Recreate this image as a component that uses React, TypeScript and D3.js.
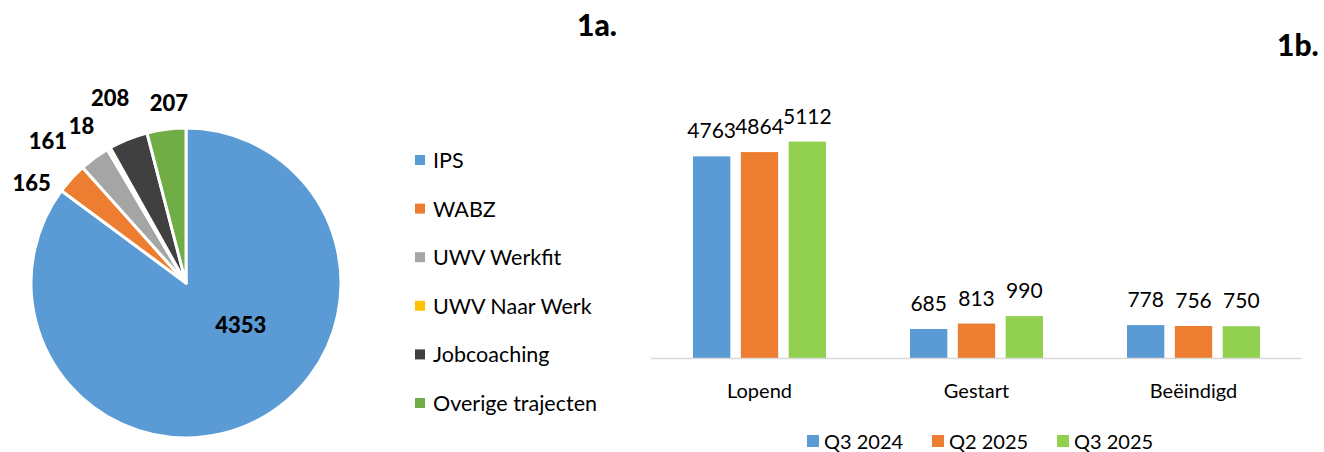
import React from 'react';
import * as d3 from 'd3';

// pie data (1a.)
const pieLabels = ['IPS', 'WABZ', 'UWV Werkfit', 'UWV Naar Werk', 'Jobcoaching', 'Overige trajecten'];
const pieValues = [4353, 165, 161, 18, 208, 207];
const pieColors = ['#5B9BD5', '#ED7D31', '#A5A5A5', '#FFC000', '#404040', '#70AD47'];

// bar data (1b.)
const categories = ['Lopend', 'Gestart', 'Beëindigd'];
const seriesNames = ['Q3 2024', 'Q2 2025', 'Q3 2025'];
const q3_2024 = [4763, 685, 778];
const q2_2025 = [4864, 813, 756];
const q3_2025 = [5112, 990, 750];
const barColors = ['#5B9BD5', '#ED7D31', '#92D050'];

// excel moves the labels around a bit
const labelNudge: [number, number][] = [
  [12, -43],
  [-14, 28],
  [-26, 11],
  [-10, 7],
  [-5, -9],
  [7, 8],
];

const FONT = 'Lato, "Open Sans", sans-serif';

export default function App() {
  const W = 1324;
  const H = 452;

  // ---- pie ----
  const cx = 186, cy = 283, r = 155;
  const pie = d3.pie<number>().sort(null).value((d) => d);
  const arcs = pie(pieValues);
  const arc = d3.arc<d3.PieArcDatum<number>>().innerRadius(0).outerRadius(r);
  const labelArc = d3.arc<d3.PieArcDatum<number>>().innerRadius(190).outerRadius(190);
  const bigArc = d3.arc<d3.PieArcDatum<number>>().innerRadius(95).outerRadius(95);

  const legendY = d3.scalePoint<string>().domain(pieLabels).range([160, 403]);

  // ---- bars ----
  const x0 = d3.scaleBand<string>().domain(categories).range([651, 1302]);
  const x1 = d3.scaleBand<string>().domain(seriesNames).range([42, 175]).paddingInner(0.22);
  const y = d3.scaleLinear().domain([0, 6000]).range([358, 104]);
  const series = [q3_2024, q2_2025, q3_2025];

  const barLegendX = [807, 932, 1057];

  return (
    <div style={{ position: 'absolute', left: 0, top: 0 }}>
      <svg width={W} height={H} style={{ display: 'block', background: '#fff' }} fontFamily={FONT}>
        <text x={577} y={36} fontSize={30} fontWeight={900} fill="#000">1a.</text>
        <text x={1277} y={56} fontSize={30} fontWeight={900} fill="#000">1b.</text>

        <g transform={`translate(${cx},${cy})`}>
          {arcs.map((a, i) => (
            <path key={i} d={arc(a) || ''} fill={pieColors[i]} stroke="#fff" strokeWidth={3} strokeLinejoin="round" />
          ))}
          {arcs.map((a, i) => {
            const [lx, ly] = i === 0 ? bigArc.centroid(a) : labelArc.centroid(a);
            const [nx, ny] = labelNudge[i];
            return (
              <text
                key={i}
                x={lx + nx}
                y={ly + ny}
                textAnchor="middle"
                dominantBaseline="central"
                fontSize={22}
                fontWeight={900}
                fill="#000"
              >
                {pieValues[i]}
              </text>
            );
          })}
        </g>

        <g>
          {pieLabels.map((l, i) => (
            <g key={l} transform={`translate(415,${legendY(l)})`}>
              <rect x={0} y={-5} width={10} height={10} fill={pieColors[i]} />
              <text x={18} y={0} dominantBaseline="central" fontSize={21.5} fill="#000">{l}</text>
            </g>
          ))}
        </g>

        <g>
          {categories.map((c, ci) => (
            <g key={c} transform={`translate(${x0(c)},0)`}>
              {seriesNames.map((s, si) => {
                const v = series[si][ci];
                const bx = x1(s) as number;
                return (
                  <g key={s}>
                    <rect x={bx} y={y(v)} width={x1.bandwidth()} height={y(0) - y(v)} fill={barColors[si]} />
                    <text x={bx + x1.bandwidth() / 2} y={y(v) - 18} textAnchor="middle" fontSize={21} fill="#000">
                      {v}
                    </text>
                  </g>
                );
              })}
              <text x={x0.bandwidth() / 2} y={390} textAnchor="middle" dominantBaseline="central" fontSize={20} fill="#000">
                {c}
              </text>
            </g>
          ))}
          <line x1={651} x2={1302} y1={358.5} y2={358.5} stroke="#D9D9D9" strokeWidth={1.5} />
        </g>

        <g>
          {seriesNames.map((s, i) => (
            <g key={s} transform={`translate(${barLegendX[i]},441)`}>
              <rect x={0} y={-6} width={12} height={12} fill={barColors[i]} />
              <text x={17} y={0} dominantBaseline="central" fontSize={20} fill="#000">{s}</text>
            </g>
          ))}
        </g>
      </svg>
    </div>
  );
}
